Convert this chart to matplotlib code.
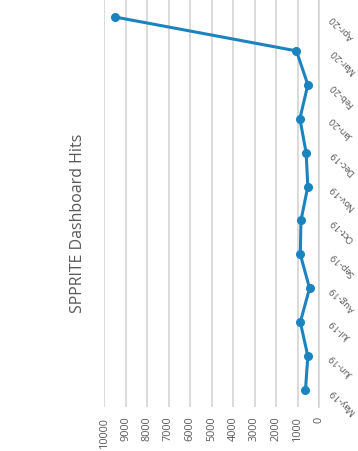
import numpy as np
import matplotlib
matplotlib.use('Agg')
import matplotlib.pyplot as plt

plt.rcParams['font.family'] = ['Open Sans', 'DejaVu Sans']

months = ['May-19', 'Jun-19', 'Jul-19', 'Aug-19', 'Sep-19', 'Oct-19',
          'Nov-19', 'Dec-19', 'Jan-20', 'Feb-20', 'Mar-20', 'Apr-20']
hits = [630, 520, 870, 440, 870, 840, 520, 600, 890, 520, 1050, 9500]
value_ticks = [0, 1000, 2000, 3000, 4000, 5000, 6000, 7000, 8000, 9000, 10000]

title = 'SPPRITE Dashboard Hits'
line_color = '#1b84bf'
text_color = '#595959'
grid_color = '#d4d4d4'

# chart is drawn turned on its side: months run up the right edge,
# hits run right-to-left along the bottom
fig = plt.figure(figsize=(3.58, 4.51), dpi=100)
ax = fig.add_axes([0.2905, 0.0976, 0.6006, 0.9024])

pos = np.arange(len(months))
ax.plot(hits, pos, color=line_color, linewidth=2.2, marker='o',
        markersize=5.5, solid_capstyle='round', zorder=3)

ax.set_xlim(10000, 0)
ax.set_ylim(-0.5, len(months) - 0.5)
ax.set_xticks(value_ticks)
ax.set_xticklabels([str(v) for v in value_ticks], rotation=90,
                   va='top', ha='center', fontsize=7.8, color=text_color)
ax.xaxis.grid(True, color=grid_color, linewidth=1.2)
ax.set_axisbelow(True)

ax.yaxis.tick_right()
ax.set_yticks(pos)
ax.set_yticklabels(months, fontsize=6.8, color=text_color)
for lab in ax.get_yticklabels():
    lab.set_rotation(135)
    lab.set_rotation_mode('anchor')
    lab.set_ha('right')
    lab.set_va('center')

ax.tick_params(axis='both', length=0)
ax.tick_params(axis='x', pad=7)
ax.tick_params(axis='y', pad=9)
for s in ['top', 'bottom', 'left']:
    ax.spines[s].set_visible(False)
ax.spines['right'].set_color(grid_color)
ax.spines['right'].set_linewidth(1.2)

fig.text(0.218, 0.505, title, rotation=90, ha='center', va='center',
         fontsize=11.5, color=text_color)

plt.savefig('out.png', dpi=100)
